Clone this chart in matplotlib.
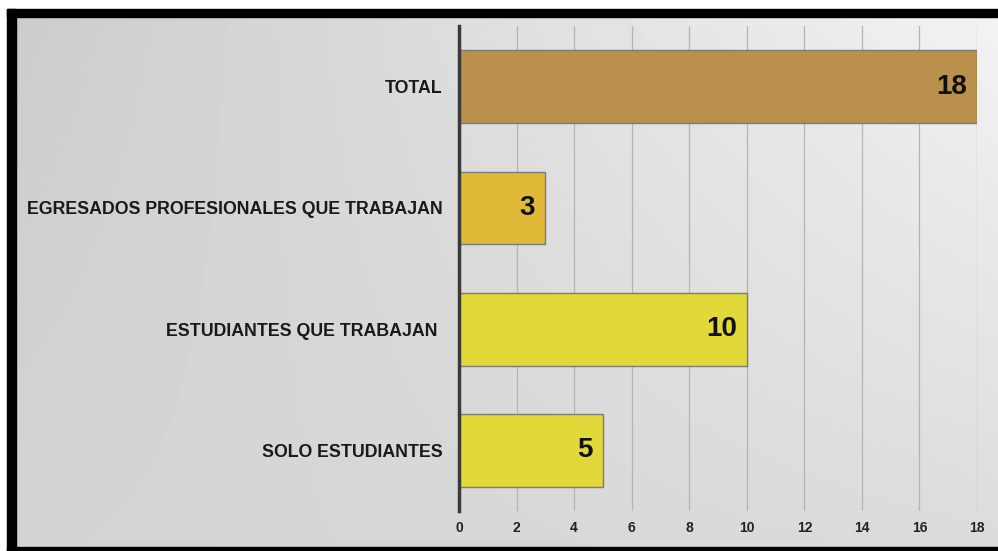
import numpy as np
import matplotlib
matplotlib.use('Agg')
from matplotlib import pyplot as plt
from matplotlib.patches import Rectangle

categories = ['SOLO ESTUDIANTES', 'ESTUDIANTES QUE TRABAJAN ',
              'EGRESADOS PROFESIONALES QUE TRABAJAN', 'TOTAL']
values = [5, 10, 3, 18]
bar_colors = ['#e2d83a', '#e2d83a', '#e1b938', '#b9914c']
xticks = [0, 2, 4, 6, 8, 10, 12, 14, 16, 18]

W, H = 998, 551
fig = plt.figure(figsize=(W / 100, H / 100), dpi=100)
fig.patch.set_facecolor('white')

# background layer in pixel coords (y downwards)
bg = fig.add_axes([0, 0, 1, 1])
bg.set_xlim(0, W)
bg.set_ylim(H, 0)
bg.axis('off')
gx, gy = np.meshgrid(np.linspace(0, 1, 200), np.linspace(0, 1, 120))
tl, tr, bl, br = 0.80, 0.95, 0.83, 0.86
shade = tl * (1 - gx) * (1 - gy) + tr * gx * (1 - gy) + bl * (1 - gx) * gy + br * gx * gy
bg.imshow(shade, cmap='gray', vmin=0, vmax=1, extent=(16, W, 547, 17),
          aspect='auto', interpolation='bilinear')
# black frame (top, left, bottom)
bg.add_patch(Rectangle((7, 9), W, 8, color='black'))
bg.add_patch(Rectangle((7, 9), 9, 545, color='black'))
bg.add_patch(Rectangle((7, 547), W, 10, color='black'))

ax = fig.add_axes([459 / W, 1 - 511 / H, (977 - 459) / W, (511 - 26) / H])
ax.patch.set_alpha(0)

ypos = np.arange(len(categories))
ax.barh(ypos, values, height=0.6, color=bar_colors, edgecolor='#7a7a7a',
        linewidth=1, zorder=3)
for y, v in zip(ypos, values):
    ax.text(v - 0.35, y, str(v), ha='right', va='center', fontsize=20,
            fontweight='bold', family='Liberation Sans', color='#111111', zorder=4)

ax.set_xlim(0, 18)
ax.set_ylim(-0.5, len(categories) - 0.5)
ax.set_xticks(xticks)
ax.set_xticklabels([str(t) for t in xticks], fontsize=10, fontweight='bold',
                   family='Liberation Sans', color='#222222')
ax.set_yticks(ypos)
ax.set_yticklabels(categories, fontsize=12.8, fontweight='bold',
                   family='Liberation Sans', color='#1a1a1a')
ax.tick_params(axis='x', length=0, pad=7)
ax.tick_params(axis='y', length=0, pad=12)
ax.grid(axis='x', color='#b4b4b4', linewidth=0.9, zorder=0)
ax.set_axisbelow(True)
for side in ['top', 'right', 'bottom']:
    ax.spines[side].set_visible(False)
ax.spines['left'].set_color('#3a3a3a')
ax.spines['left'].set_linewidth(2.5)
ax.spines['left'].set_zorder(5)

fig.savefig('out.png', dpi=100)
